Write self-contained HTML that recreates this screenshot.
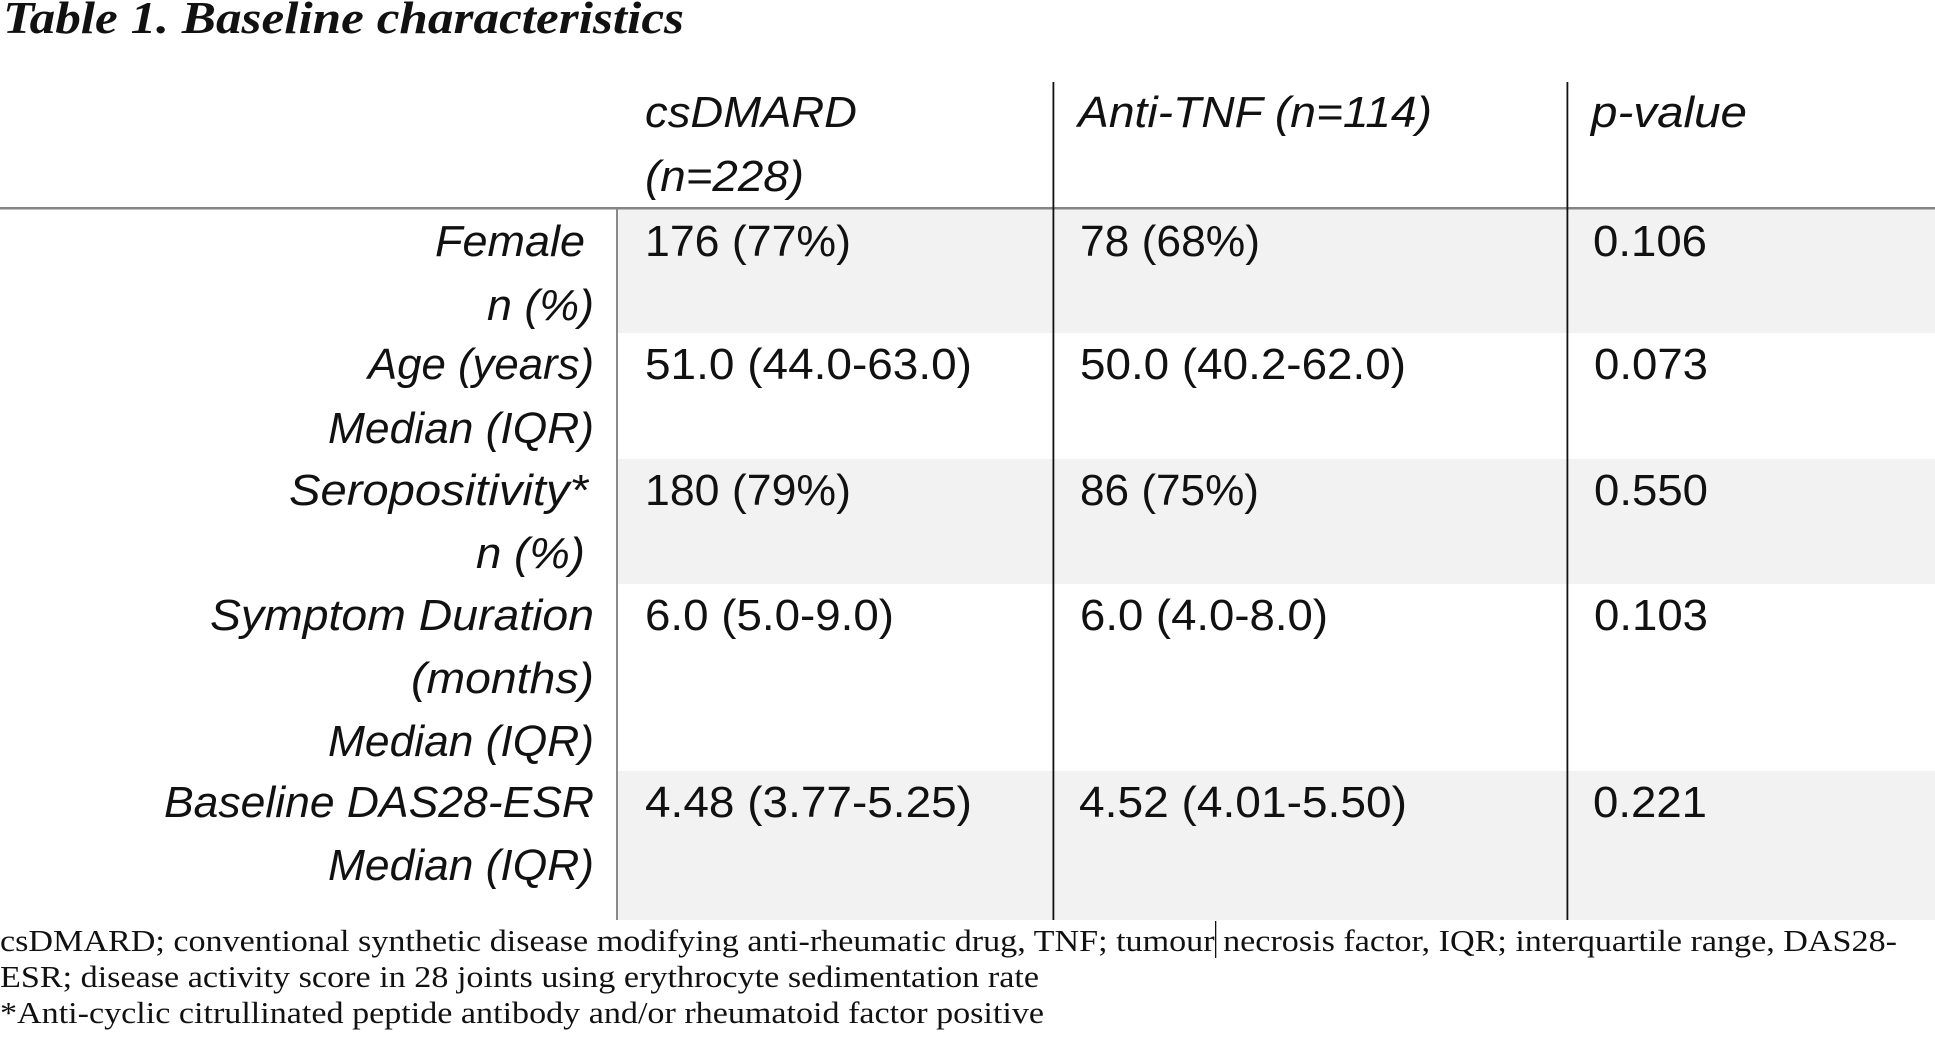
<!DOCTYPE html>
<html>
<head>
<meta charset="utf-8">
<style>
  html, body { margin: 0; padding: 0; background: #ffffff; }
  body { width: 1935px; height: 1038px; overflow: hidden; }
  svg { display: block; }
  .lab { font-family: "Liberation Sans", sans-serif; font-style: italic; font-size: 43.5px; fill: #111; }
  .val { font-family: "Liberation Sans", sans-serif; font-size: 43.5px; fill: #111; }
  .ttl { font-family: "Liberation Serif", serif; font-style: italic; font-weight: bold; font-size: 46px; fill: #111; }
  .fn  { font-family: "Liberation Serif", serif; font-size: 30.5px; fill: #111; }
</style>
</head>
<body>
<svg width="1935" height="1038" viewBox="0 0 1935 1038" xmlns="http://www.w3.org/2000/svg">
  <rect x="0" y="0" width="1935" height="1038" fill="#ffffff"/>

  <!-- shaded rows -->
  <rect x="618" y="209" width="1317" height="124" fill="#f2f2f2"/>
  <rect x="618" y="459" width="1317" height="125" fill="#f2f2f2"/>
  <rect x="618" y="771" width="1317" height="149" fill="#f2f2f2"/>

  <!-- lines -->
  <rect x="0" y="207" width="1935" height="2.5" fill="#858585"/>
  <rect x="616" y="209" width="2" height="711" fill="#8a8a8a"/>
  <rect x="1052.5" y="82" width="1.8" height="838" fill="#111"/>
  <rect x="1566.5" y="82" width="1.8" height="838" fill="#111"/>
  <rect x="1215" y="921" width="1.3" height="37" fill="#111"/>

  <!-- title -->
  <text class="ttl" x="3" y="33" textLength="681" lengthAdjust="spacingAndGlyphs">Table 1. Baseline characteristics</text>

  <!-- header -->
  <text class="lab" x="645" y="127" textLength="212" lengthAdjust="spacingAndGlyphs">csDMARD</text>
  <text class="lab" x="645" y="191" textLength="159" lengthAdjust="spacingAndGlyphs">(n=228)</text>
  <text class="lab" x="1078" y="127" textLength="354" lengthAdjust="spacingAndGlyphs">Anti-TNF (n=114)</text>
  <text class="lab" x="1591" y="127" textLength="156" lengthAdjust="spacingAndGlyphs">p-value</text>

  <!-- Female -->
  <text class="lab" x="435" y="256" textLength="150" lengthAdjust="spacingAndGlyphs">Female</text>
  <text class="lab" x="487" y="320" textLength="107" lengthAdjust="spacingAndGlyphs">n (%)</text>
  <text class="val" x="645" y="256" textLength="206" lengthAdjust="spacingAndGlyphs">176 (77%)</text>
  <text class="val" x="1080" y="256" textLength="180" lengthAdjust="spacingAndGlyphs">78 (68%)</text>
  <text class="val" x="1593" y="256" textLength="114" lengthAdjust="spacingAndGlyphs">0.106</text>

  <!-- Age -->
  <text class="lab" x="368" y="379" textLength="226" lengthAdjust="spacingAndGlyphs">Age (years)</text>
  <text class="lab" x="328" y="443" textLength="266" lengthAdjust="spacingAndGlyphs">Median (IQR)</text>
  <text class="val" x="645" y="379" textLength="327" lengthAdjust="spacingAndGlyphs">51.0 (44.0-63.0)</text>
  <text class="val" x="1080" y="379" textLength="326" lengthAdjust="spacingAndGlyphs">50.0 (40.2-62.0)</text>
  <text class="val" x="1594" y="379" textLength="114" lengthAdjust="spacingAndGlyphs">0.073</text>

  <!-- Seropositivity -->
  <text class="lab" x="289" y="505" textLength="299" lengthAdjust="spacingAndGlyphs">Seropositivity*</text>
  <text class="lab" x="476" y="568" textLength="109" lengthAdjust="spacingAndGlyphs">n (%)</text>
  <text class="val" x="645" y="505" textLength="206" lengthAdjust="spacingAndGlyphs">180 (79%)</text>
  <text class="val" x="1080" y="505" textLength="179" lengthAdjust="spacingAndGlyphs">86 (75%)</text>
  <text class="val" x="1594" y="505" textLength="114" lengthAdjust="spacingAndGlyphs">0.550</text>

  <!-- Symptom Duration -->
  <text class="lab" x="210" y="630" textLength="384" lengthAdjust="spacingAndGlyphs">Symptom Duration</text>
  <text class="lab" x="411" y="693" textLength="183" lengthAdjust="spacingAndGlyphs">(months)</text>
  <text class="lab" x="328" y="756" textLength="266" lengthAdjust="spacingAndGlyphs">Median (IQR)</text>
  <text class="val" x="645" y="630" textLength="249" lengthAdjust="spacingAndGlyphs">6.0 (5.0-9.0)</text>
  <text class="val" x="1080" y="630" textLength="248" lengthAdjust="spacingAndGlyphs">6.0 (4.0-8.0)</text>
  <text class="val" x="1594" y="630" textLength="114" lengthAdjust="spacingAndGlyphs">0.103</text>

  <!-- Baseline DAS28-ESR -->
  <text class="lab" x="164" y="817" textLength="430" lengthAdjust="spacingAndGlyphs">Baseline DAS28-ESR</text>
  <text class="lab" x="328" y="880" textLength="266" lengthAdjust="spacingAndGlyphs">Median (IQR)</text>
  <text class="val" x="645" y="817" textLength="327" lengthAdjust="spacingAndGlyphs">4.48 (3.77-5.25)</text>
  <text class="val" x="1079" y="817" textLength="328" lengthAdjust="spacingAndGlyphs">4.52 (4.01-5.50)</text>
  <text class="val" x="1593" y="817" textLength="114" lengthAdjust="spacingAndGlyphs">0.221</text>

  <!-- footnotes -->
  <text class="fn" x="0" y="951" textLength="1897" lengthAdjust="spacingAndGlyphs">csDMARD; conventional synthetic disease modifying anti-rheumatic drug, TNF; tumour necrosis factor, IQR; interquartile range, DAS28-</text>
  <text class="fn" x="0" y="987" textLength="1039" lengthAdjust="spacingAndGlyphs">ESR; disease activity score in 28 joints using erythrocyte sedimentation rate</text>
  <text class="fn" x="0" y="1023" textLength="1044" lengthAdjust="spacingAndGlyphs">*Anti-cyclic citrullinated peptide antibody and/or rheumatoid factor positive</text>
</svg>
</body>
</html>
